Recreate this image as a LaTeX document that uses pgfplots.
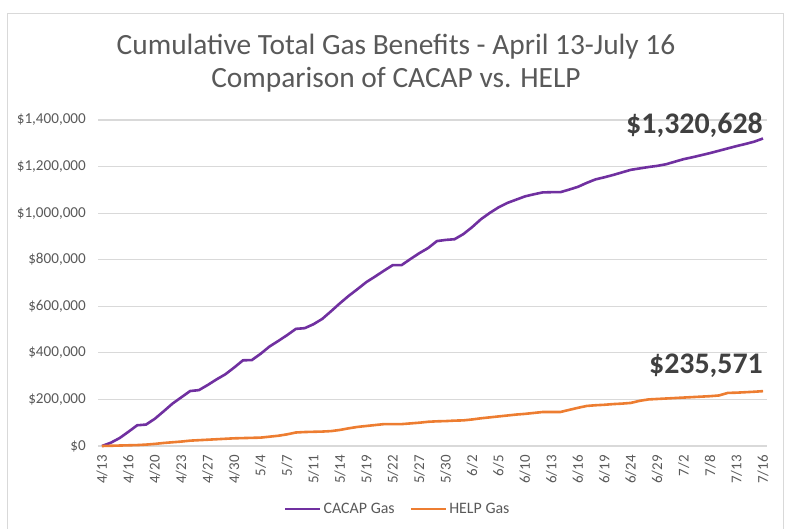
\documentclass[border=0pt]{standalone}
\usepackage{fontspec}
\setmainfont{Carlito}
\usepackage{pgfplots}
\usepackage{pgfplotstable}
\pgfplotsset{compat=1.18}
\definecolor{cacap}{HTML}{7030A0}
\definecolor{help}{HTML}{ED7D31}
\definecolor{txtgray}{HTML}{595959}
\definecolor{anngray}{HTML}{404040}
\definecolor{gridgray}{HTML}{D9D9D9}
\pgfplotstableread{
x cacap help
0 0 0
1 14000 1000
2 34000 2000
3 61000 3000
4 89000 4000
5 92000 6000
6 117000 9000
7 149000 13000
8 182000 16000
9 209000 19000
10 236000 23000
11 240000 25000
12 262000 27000
13 286000 29000
14 308000 31000
15 337000 33000
16 368000 34000
17 369000 35000
18 396000 36000
19 427000 40000
20 451000 44000
21 476000 50000
22 503000 58000
23 506000 60000
24 523000 61000
25 546000 62000
26 579000 64000
27 613000 69000
28 645000 76000
29 674000 82000
30 704000 86000
31 728000 90000
32 753000 94000
33 777000 94000
34 777000 94000
35 803000 97000
36 828000 100000
37 850000 104000
38 880000 106000
39 885000 107000
40 888000 109000
41 910000 110000
42 940000 114000
43 974000 119000
44 1001000 123000
45 1025000 127000
46 1044000 131000
47 1058000 135000
48 1072000 138000
49 1081000 142000
50 1089000 146000
51 1090000 146000
52 1090000 146000
53 1101000 155000
54 1113000 164000
55 1130000 172000
56 1145000 175000
57 1154000 177000
58 1164000 180000
59 1175000 182000
60 1186000 185000
61 1192000 194000
62 1198000 200000
63 1203000 202000
64 1210000 204000
65 1221000 206000
66 1232000 208000
67 1240000 210000
68 1249000 212000
69 1258000 214000
70 1268000 217000
71 1278000 228000
72 1288000 229000
73 1297000 231000
74 1307000 233000
75 1320628 235571
}\datatable
\begin{document}
\begin{tikzpicture}
\useasboundingbox (0,0) rectangle (785bp,529bp);
\draw[gridgray, line width=1bp] (7bp,0) -- (7bp,515bp) -- (783bp,515bp) -- (783bp,0);
\node[anchor=base, text=txtgray, font=\fontsize{29.5}{32}\selectfont] at (396bp,474bp) {Cumulative Total Gas Benefits - April 13-July 16};
\node[anchor=base, text=txtgray, font=\fontsize{29.5}{32}\selectfont] at (396bp,441bp) {Comparison of CACAP vs. HELP};
\begin{axis}[
  at={(98bp,83bp)}, anchor=south west,
  scale only axis, width=669bp, height=326bp,
  xmin=-0.45, xmax=75.45, ymin=0, ymax=1400000,
  axis line style={draw=none},
  major tick length=0pt,
  xtick={0,3,...,75},
  xticklabels={4/13,4/16,4/20,4/23,4/27,4/30,5/4,5/7,5/11,5/14,5/19,5/22,5/27,5/30,6/2,6/5,6/10,6/13,6/16,6/19,6/24,6/29,7/2,7/8,7/13,7/16},
  x tick label style={rotate=90, anchor=east, font=\fontsize{15}{17}\selectfont, text=txtgray, inner sep=0pt},
  xticklabel shift=9bp,
  ytick={0,200000,400000,600000,800000,1000000,1200000,1400000},
  yticklabels={{\$0},{\$200,000},{\$400,000},{\$600,000},{\$800,000},{\$1,000,000},{\$1,200,000},{\$1,400,000}},
  y tick label style={font=\fontsize{15.2}{17}\selectfont, text=txtgray, inner sep=0pt},
  yticklabel shift=12bp,
  ymajorgrids, major grid style={gridgray, line width=1.2bp},
  scaled y ticks=false,
  clip=false,
  legend columns=2,
  legend style={at={(0.448,-0.193)}, anchor=center, draw=none, fill=none,
    font=\fontsize{16}{18}\selectfont, text=txtgray,
    /tikz/every even column/.append style={column sep=13bp}},
  legend image code/.code={\draw[#1] (0bp,0bp) -- (35bp,0bp);},
]
\addplot[cacap, line width=2.6bp] table[x=x, y=cacap] {\datatable};
\addlegendentry{CACAP Gas}
\addplot[help, line width=2.6bp] table[x=x, y=help] {\datatable};
\addlegendentry{HELP Gas}
\node[anchor=base east, text=anngray, font=\bfseries\fontsize{30}{33}\selectfont, inner sep=0pt] at (axis cs:75,1320628) [yshift=5bp] {\$1,320,628};
\node[anchor=base east, text=anngray, font=\bfseries\fontsize{30}{33}\selectfont, inner sep=0pt] at (axis cs:75,235571) [yshift=18bp] {\$235,571};
\end{axis}
\end{tikzpicture}
\end{document}
